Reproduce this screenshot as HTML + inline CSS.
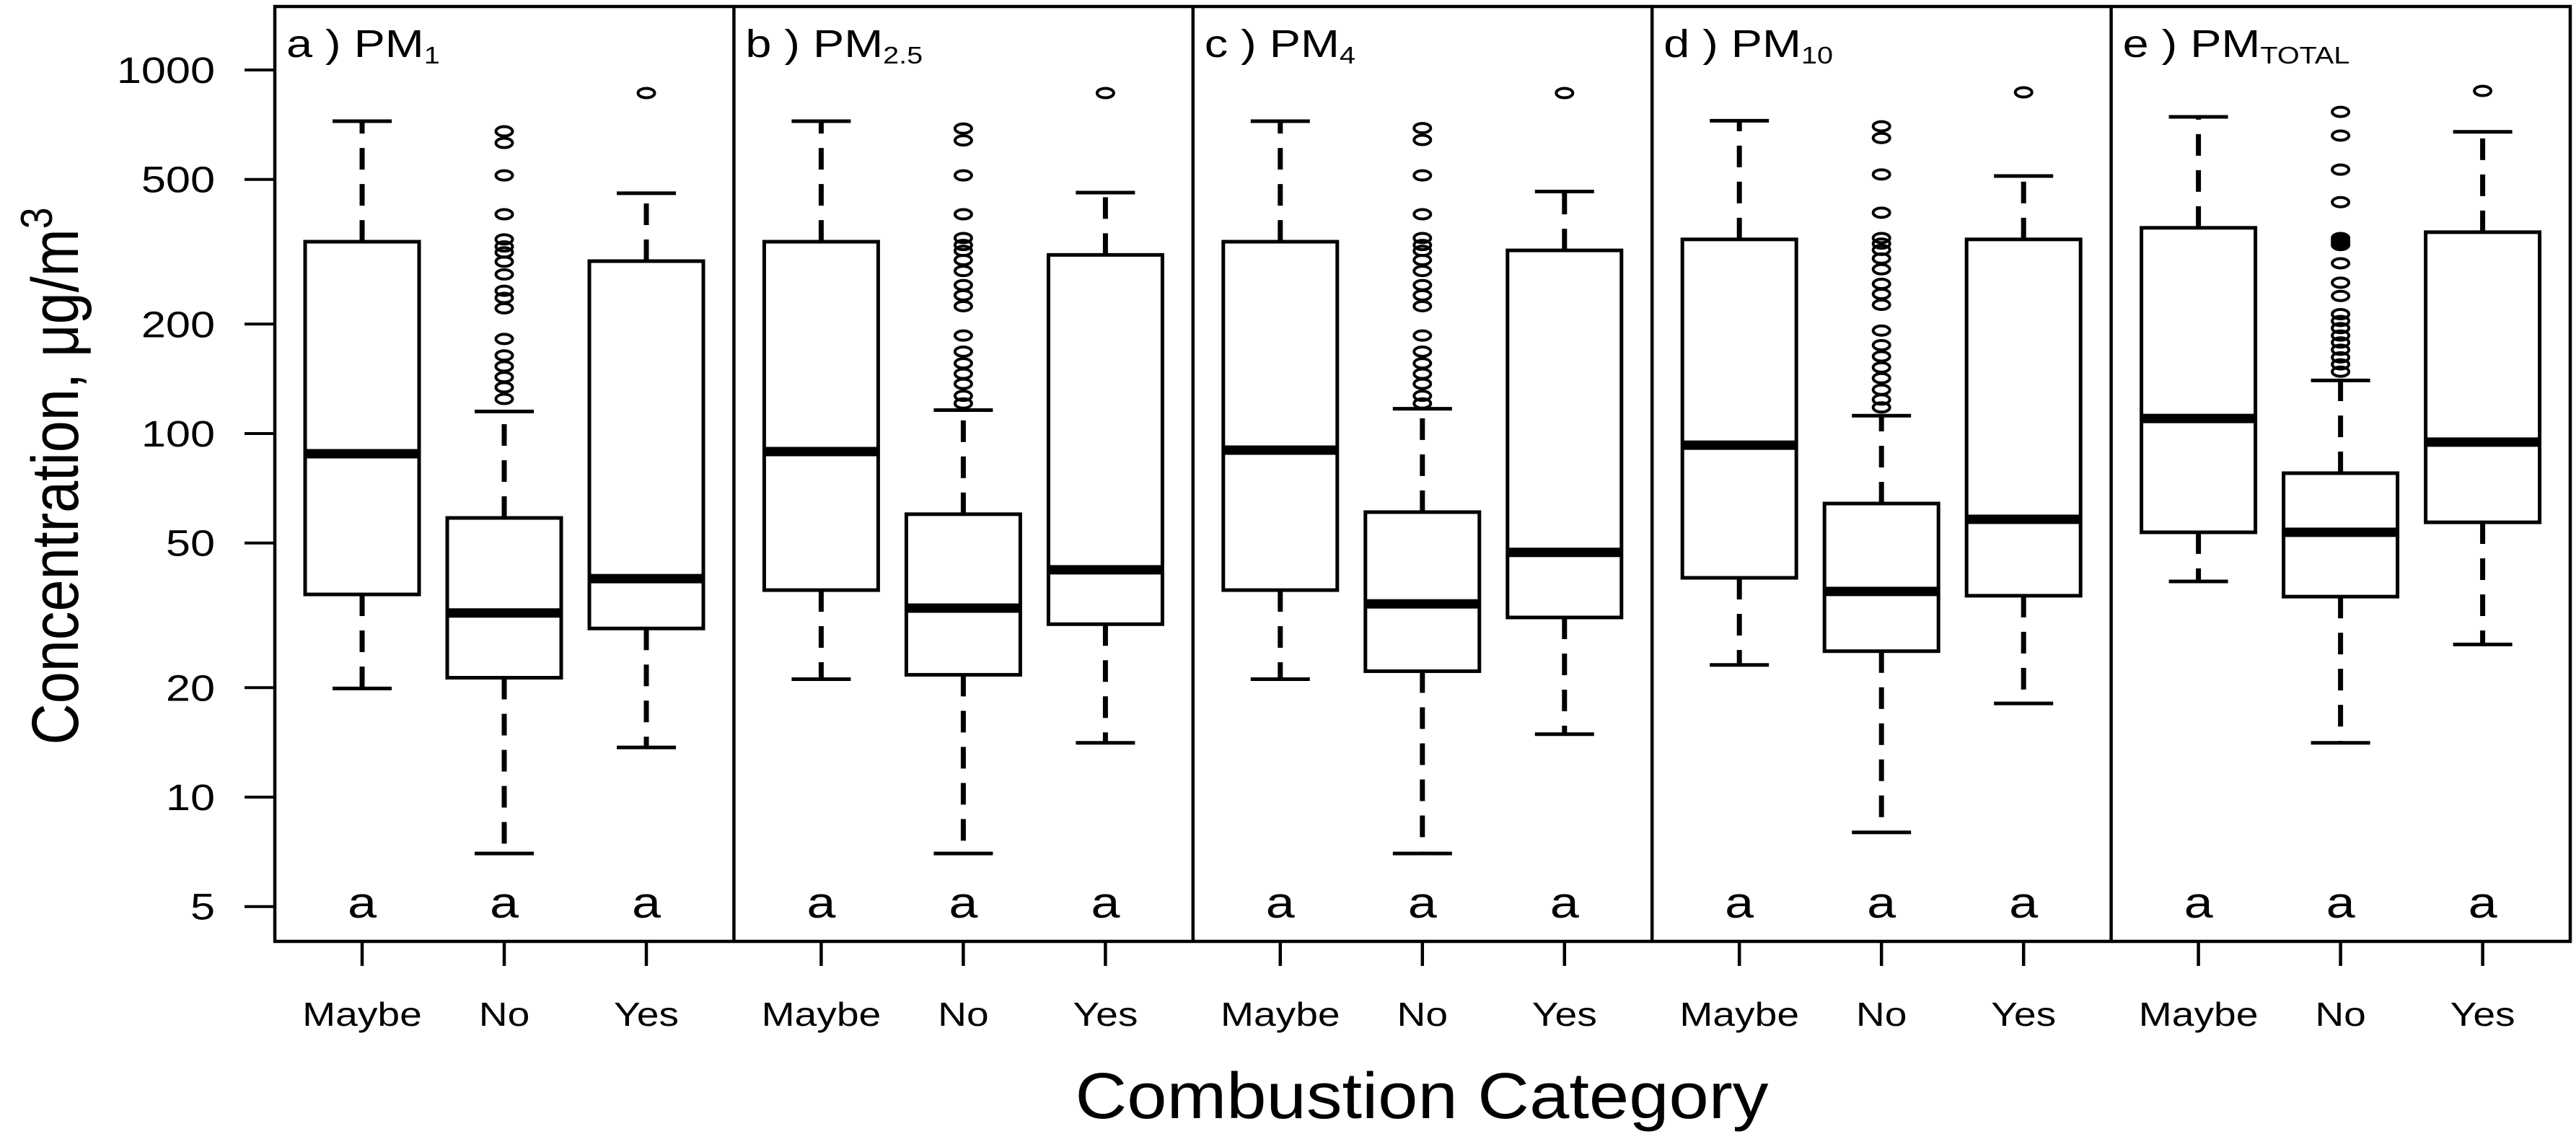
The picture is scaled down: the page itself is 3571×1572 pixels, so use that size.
<!DOCTYPE html>
<html><head><meta charset="utf-8"><style>
html,body{margin:0;padding:0;background:#fff;}
svg{display:block;}
text{font-family:"Liberation Sans",Arial,sans-serif;fill:#000;}
</style></head><body>
<svg id="chart" xmlns="http://www.w3.org/2000/svg" width="3571" height="1572" viewBox="0 0 3571 1572">
<rect x="0" y="0" width="3571" height="1572" fill="#fff"/>
<g id="marks"></g>
<text transform="translate(108,660) rotate(-90)" text-anchor="middle" font-size="92" textLength="745" lengthAdjust="spacingAndGlyphs">Concentration, μg/m<tspan dy="-36" font-size="62">3</tspan></text>
<text x="1971" y="1550" text-anchor="middle" font-size="90" textLength="961" lengthAdjust="spacingAndGlyphs">Combustion Category</text>
</svg>
<script>
// ---- data ----
const categories = ["Maybe", "No", "Yes"];
const panelNames = ["a ) PM", "b ) PM", "c ) PM", "d ) PM", "e ) PM"];
const panelSubs = ["1", "2.5", "4", "10", "TOTAL"];
const yTickValues = [5, 10, 20, 50, 100, 200, 500, 1000];
const sigLetters = ["a", "a", "a"];
// per panel: [Maybe, No, Yes]
const whiskerLow = [[19.9, 7.0, 13.7], [21.1, 7.0, 14.1], [21.1, 7.0, 14.9], [23.1, 8.0, 18.1], [39.2, 14.1, 26.3]];
const q1 = [[36.1, 21.3, 29.1], [37.1, 21.7, 29.9], [37.1, 22.2, 31.2], [40.1, 25.2, 35.8], [53.5, 35.6, 57.0]];
const medians = [[88, 32.1, 39.9], [89.2, 33.1, 42.2], [90, 34.0, 47.1], [92.9, 36.8, 58.1], [110, 53.5, 94.7]];
const q3 = [[337, 58.6, 298], [337, 60, 310], [337, 60.8, 319], [342, 64.2, 342], [368, 77.8, 358]];
const whiskerHigh = [[723, 115, 458], [723, 116, 460], [723, 117, 463], [725, 112, 511], [743, 140, 676]];
const outliersNoA = [678, 630, 513, 401, 342, 327, 315, 297, 274, 247, 236, 221, 182, 164, 153, 143, 134, 124.5];
const outliersNoB = [690, 640, 513, 401, 345, 330, 318, 300, 280, 256, 240, 224, 186, 168, 156, 146, 137, 127, 121];
const outliersNoC = [692, 642, 513, 401, 345, 330, 318, 300, 280, 256, 240, 224, 186, 168, 156, 146, 137, 127, 121];
const outliersNoD = [700, 650, 516, 405, 345, 333, 320, 303, 283, 258, 242, 226, 192, 175, 163, 152, 142, 132, 124, 118];
const outliersNoE = [767, 660, 532, 433, 345, 340, 335, 330, 294, 260, 239, 213, 204, 195, 186, 178, 170, 162, 155, 148];
const outliersYes = [864, 864, 864, 868, 876];
const outliersMaybe = [[], [], [], [], []];

const NS = "http://www.w3.org/2000/svg";
const g = document.getElementById("marks");
const plotTop = 9, plotBottom = 1305, plotLeft = 381, panelW = 636.4;
function yScale(v) { return 601 - 504 * Math.log10(v / 100); }
function xPanel(p) { return plotLeft + p * panelW; }
function xCat(p, i) { return xPanel(p) + 121 + 197 * i; }
function mk(tag, attrs) { const e = document.createElementNS(NS, tag); for (const k in attrs) e.setAttribute(k, attrs[k]); g.appendChild(e); return e; }
const BOXHW = 79, CAPHW = 41;

let fr = mk("rect", {x: plotLeft, y: plotTop, width: panelW * 5, height: plotBottom - plotTop, fill: "none", stroke: "#000", "stroke-width": 4.5});


for (let p = 1; p < 5; p++) {
  const d = mk("line", {x1: xPanel(p), x2: xPanel(p), y1: plotTop, y2: plotBottom, stroke: "#000", "stroke-width": 4.5});
  
  
}

yTickValues.forEach(v => {
  const y = yScale(v);
  const t = mk("line", {x1: plotLeft - 42, x2: plotLeft, y1: y, y2: y, stroke: "#000", "stroke-width": 4});
  
  
  const l = mk("text", {transform: `translate(298,${y + 18}) scale(1.2,1)`, "text-anchor": "end", "font-size": 51});
  l.textContent = v;
  
  
});

const outNo = [outliersNoA, outliersNoB, outliersNoC, outliersNoD, outliersNoE];

for (let p = 0; p < 5; p++) {
  const tt = mk("text", {transform: `translate(${xPanel(p) + 16},79) scale(1.2,1)`, "font-size": 54});
  
  
  tt.textContent = panelNames[p];
  const ts = document.createElementNS(NS, "tspan");
  ts.setAttribute("font-size", 33); ts.setAttribute("dy", 9);
  ts.textContent = panelSubs[p];
  tt.appendChild(ts);

  for (let i = 0; i < 3; i++) {
    const cx = xCat(p, i);
    const yl = yScale(whiskerLow[p][i]), y1 = yScale(q1[p][i]), ym = yScale(medians[p][i]), y3 = yScale(q3[p][i]), yh = yScale(whiskerHigh[p][i]);
    const w1 = mk("line", {x1: cx, x2: cx, y1: y3, y2: yh, stroke: "#000", "stroke-width": 7, "stroke-dasharray": "30 20"});
    
    
    const w2 = mk("line", {x1: cx, x2: cx, y1: y1, y2: yl, stroke: "#000", "stroke-width": 7, "stroke-dasharray": "30 20"});
    
    
    const c1 = mk("line", {x1: cx - CAPHW, x2: cx + CAPHW, y1: yh, y2: yh, stroke: "#000", "stroke-width": 5});
    
    
    const c2 = mk("line", {x1: cx - CAPHW, x2: cx + CAPHW, y1: yl, y2: yl, stroke: "#000", "stroke-width": 5});
    
    
    const b = mk("rect", {x: cx - BOXHW, y: y3, width: BOXHW * 2, height: y1 - y3, fill: "#fff", stroke: "#000", "stroke-width": 5});
    
    
    const m = mk("line", {x1: cx - BOXHW, x2: cx + BOXHW, y1: ym, y2: ym, stroke: "#000", "stroke-width": 13});
    
    
    const outs = i === 1 ? outNo[p] : (i === 2 ? [outliersYes[p]] : outliersMaybe[p]);
    outs.forEach(v => {
      const o = mk("ellipse", {cx: cx, cy: yScale(v), rx: 11.5, ry: 6.5, fill: "none", stroke: "#000", "stroke-width": 4});
      
      
    });
    const s = mk("text", {transform: `translate(${cx},1272) scale(1.2,1)`, "text-anchor": "middle", "font-size": 60});
    s.textContent = sigLetters[i];
    
    
    const xt = mk("line", {x1: cx, x2: cx, y1: plotBottom, y2: plotBottom + 34, stroke: "#000", "stroke-width": 4.5});
    
    
    const xl = mk("text", {transform: `translate(${cx},1422) scale(1.2,1)`, "text-anchor": "middle", "font-size": 46});
    xl.textContent = categories[i];
    
    
  }
}
</script>
</body></html>
